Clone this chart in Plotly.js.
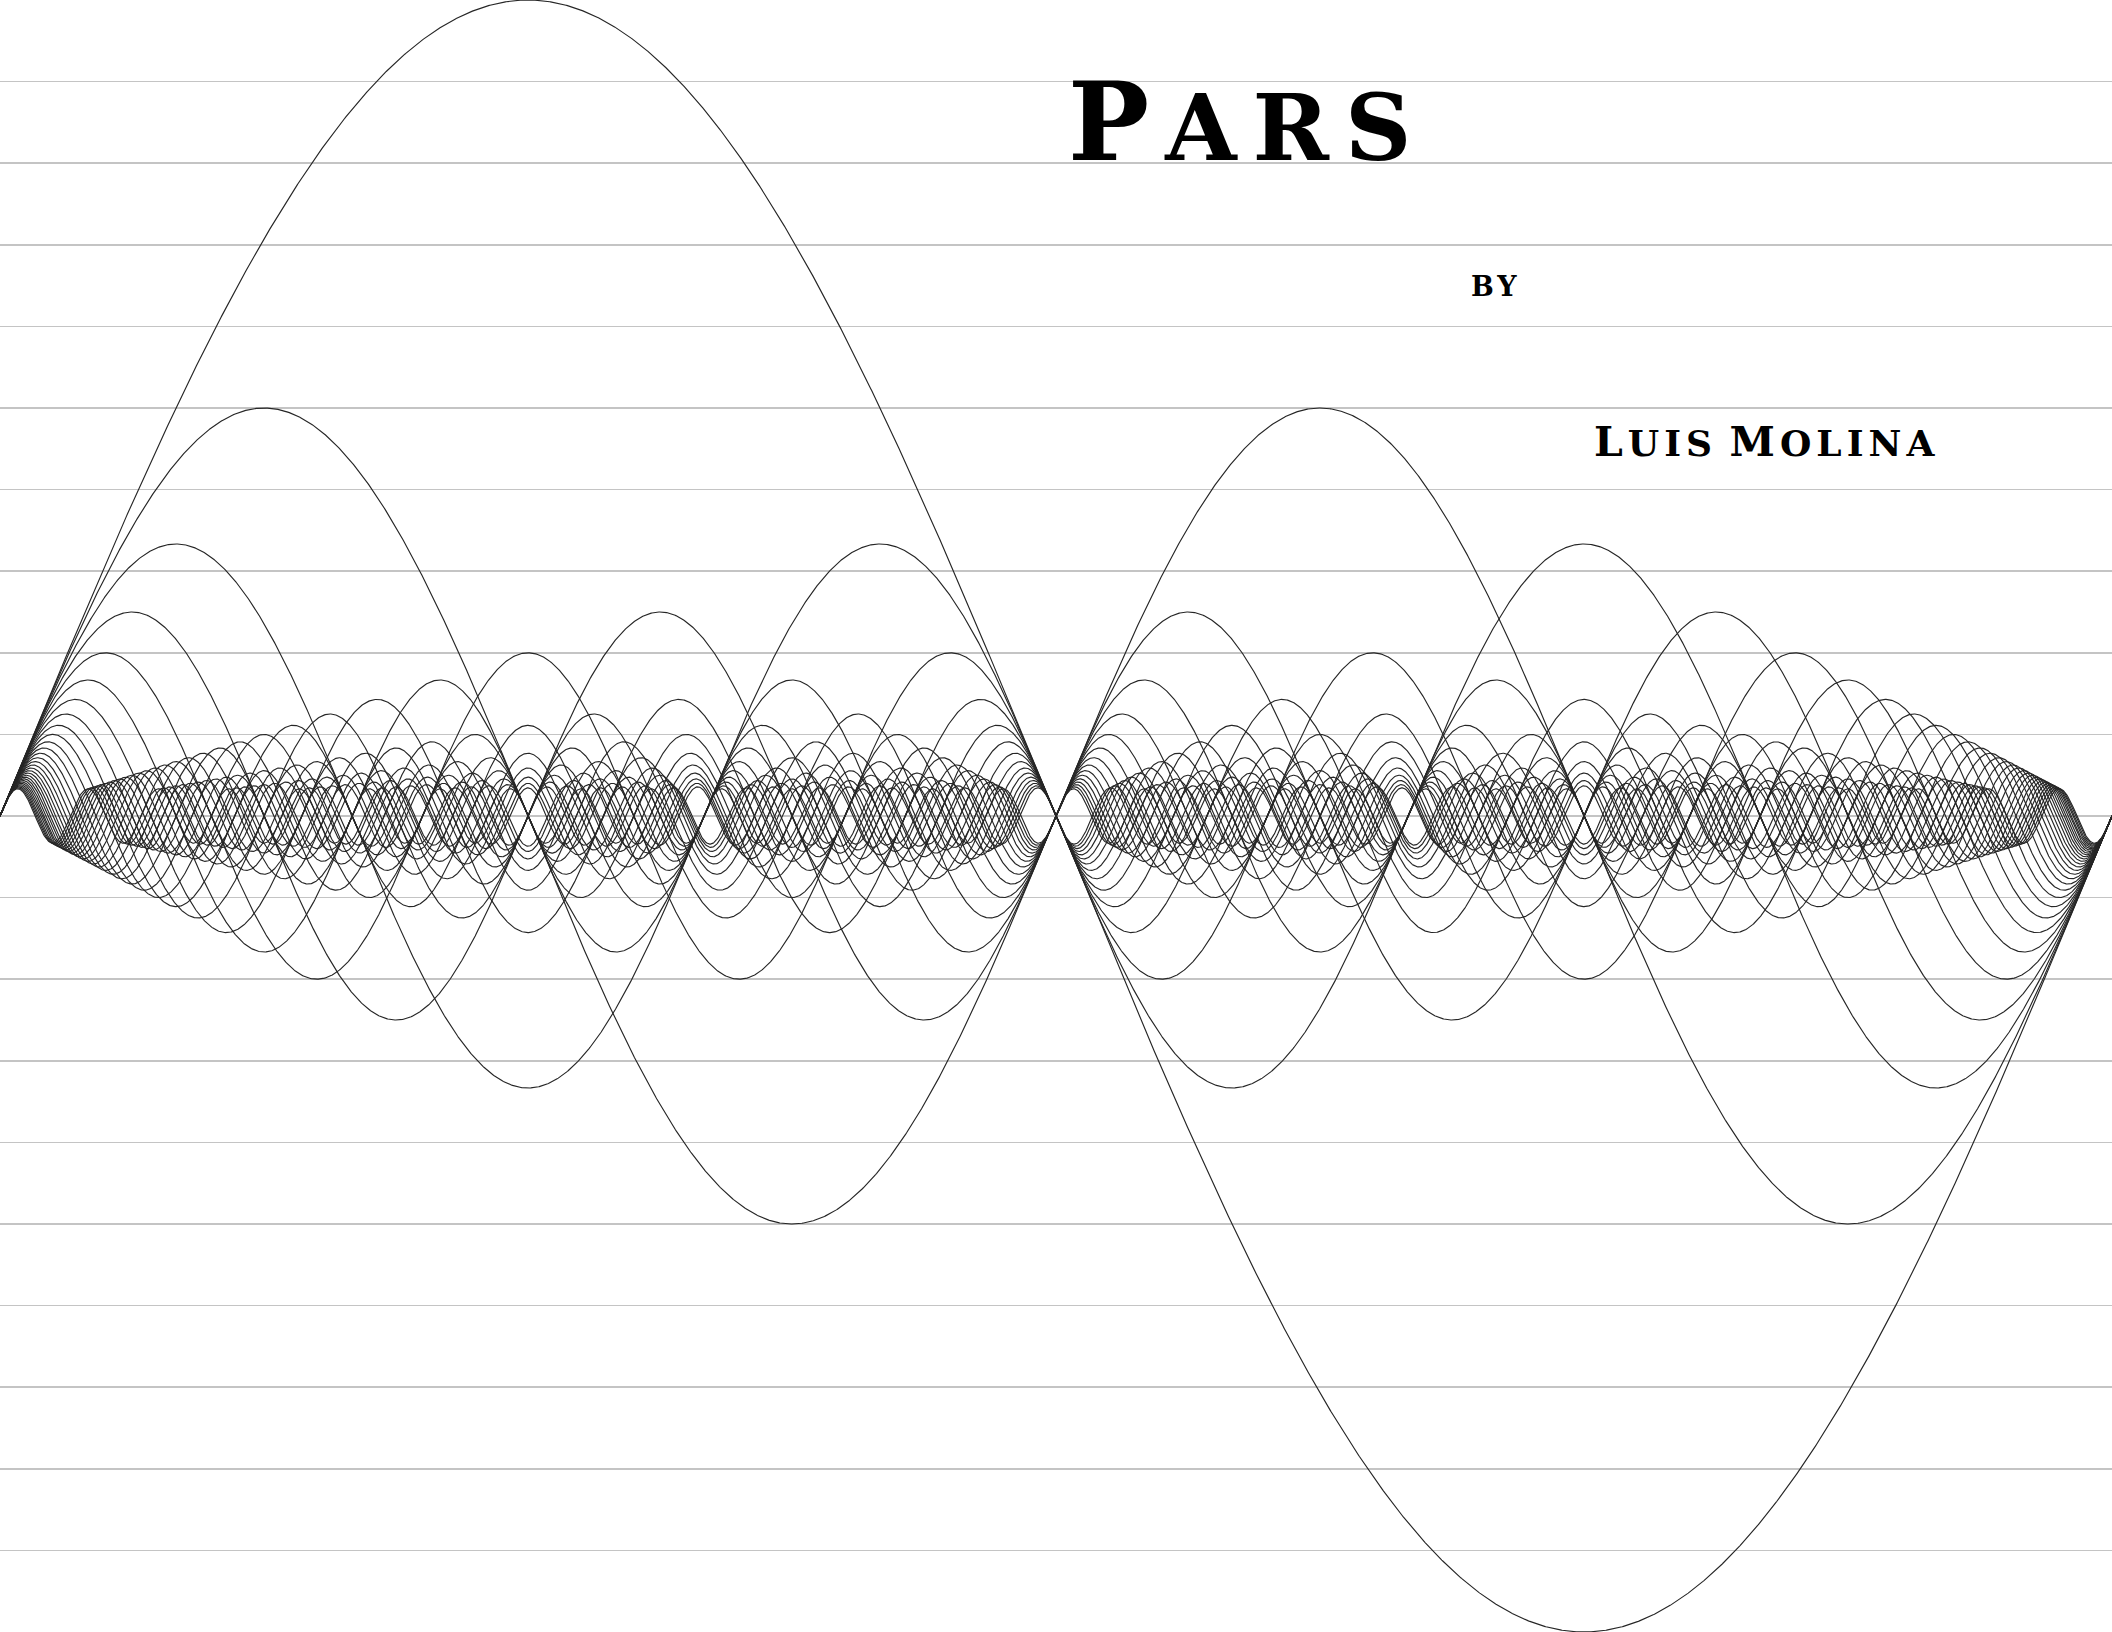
<!DOCTYPE html>
<html>
<head>
<meta charset="utf-8">
<script src="https://cdn.plot.ly/plotly-3.0.1.min.js"></script>
<style>html,body{margin:0;padding:0;background:#fff;}#chart{width:2112px;height:1632px;}</style>
</head>
<body>
<div id="chart"></div>
<script>
// Harmonics drawn: y = sin(n x) / n over one period
const harmonics = [1,2,3,4,5,6,7,8,9,10,11,12,13,14,15,16,17,18,19,20,21,22,23,24,25,26,27,28,29,30];
const xStart = 0;
const xEnd = 2 * Math.PI;
const samples = 3000;
const titleText = "Pars";
const byText = "by";
const authorText = "Luis Molina";

const xs = [];
for (let i = 0; i <= samples; i++) xs.push(xStart + (xEnd - xStart) * i / samples);

const traces = harmonics.map(n => ({
  type: 'scatter',
  mode: 'lines',
  x: xs,
  y: xs.map(x => Math.sin(n * x) / n),
  line: {color: '#262626', width: 1.15},
  hoverinfo: 'skip',
  showlegend: false
}));

// small-caps rendering: initial capitals large, other letters as smaller capitals
function smallCaps(str, big, small, spacing) {
  return str.split(' ').map(word => {
    const first = word.charAt(0), rest = word.slice(1);
    const firstIsCap = first === first.toUpperCase();
    let out = '';
    out += '<span style="font-size:' + (firstIsCap ? big : small) + 'px;letter-spacing:' + spacing + 'px">' + first.toUpperCase() + '</span>';
    if (rest) out += '<span style="font-size:' + small + 'px;letter-spacing:' + spacing + 'px">' + rest.toUpperCase() + '</span>';
    return out;
  }).join('<span style="font-size:' + small + 'px"> </span>');
}

const fontFam = '"DejaVu Serif", "Liberation Serif", serif';
const layout = {
  width: 2112, height: 1632,
  margin: {l: 0, r: 0, t: 0, b: 0, pad: 0},
  paper_bgcolor: '#ffffff', plot_bgcolor: '#ffffff',
  showlegend: false,
  hovermode: false,
  xaxis: {range: [xStart, xEnd], showgrid: false, zeroline: false, showticklabels: false,
          ticks: '', showline: true, mirror: true, linecolor: '#c4c4c4', linewidth: 2},
  yaxis: {range: [-1, 1], dtick: 0.1, tick0: 0, showgrid: true, gridcolor: '#c4c4c4', gridwidth: 1.5,
          zeroline: false, showticklabels: false, ticks: '', showline: false},
  annotations: [
    {text: smallCaps(titleText, 108, 92, 16), xref: 'paper', yref: 'paper', x: 1248/2112, y: 1 - 122/1632,
     xanchor: 'center', yanchor: 'middle', showarrow: false,
     font: {family: fontFam, size: 108, color: '#000', weight: 'bold'}},
    {text: smallCaps(byText, 27, 27, 4), xref: 'paper', yref: 'paper', x: 1496/2112, y: 1 - 286/1632,
     xanchor: 'center', yanchor: 'middle', showarrow: false,
     font: {family: fontFam, size: 27, color: '#000', weight: 'bold'}},
    {text: smallCaps(authorText, 41, 36, 5), xref: 'paper', yref: 'paper', x: 1766/2112, y: 1 - 442/1632,
     xanchor: 'center', yanchor: 'middle', showarrow: false,
     font: {family: fontFam, size: 41, color: '#000', weight: 'bold'}}
  ]
};

Plotly.newPlot('chart', traces, layout, {staticPlot: true, displayModeBar: false});
</script>
</body>
</html>
